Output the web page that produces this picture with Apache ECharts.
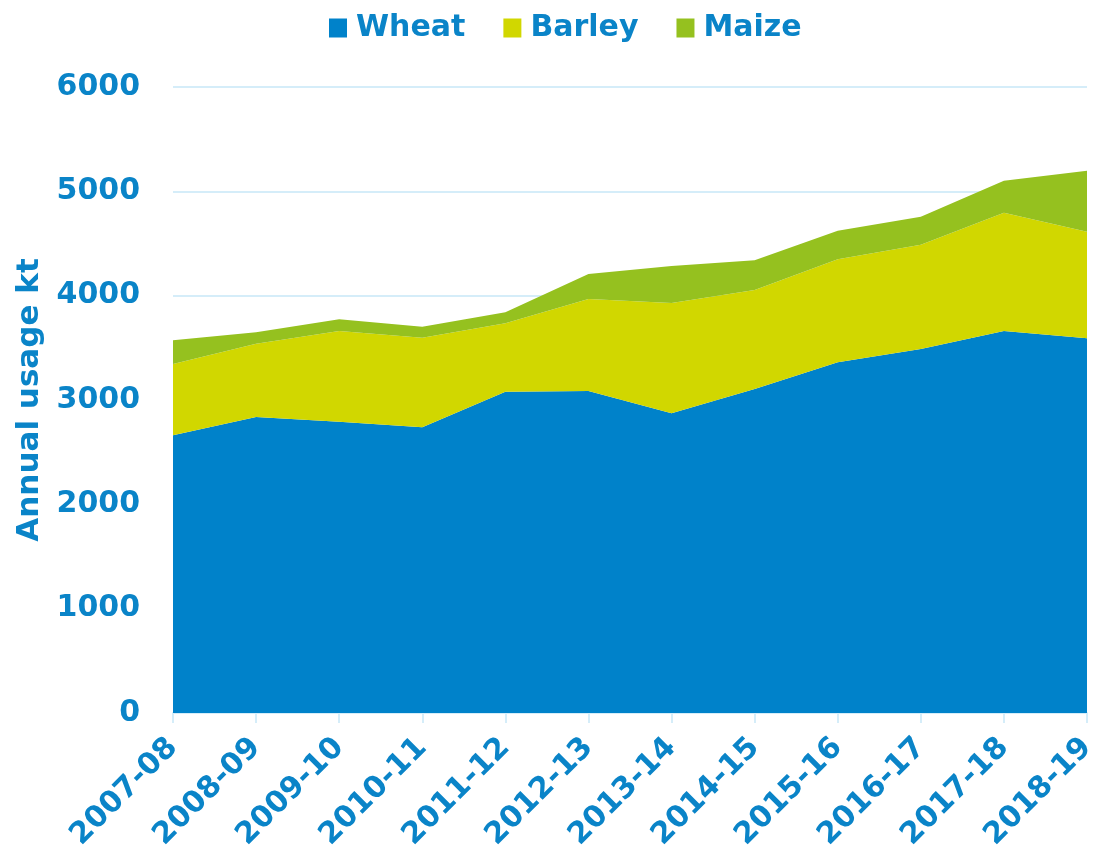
<!DOCTYPE html>
<html>
<head>
<meta charset="utf-8">
<script src="https://cdn.jsdelivr.net/npm/echarts@6/dist/echarts.min.js"></script>
<style>
  html, body { margin: 0; padding: 0; background: #fff; }
  #container { width: 1096px; height: 860px; }
</style>
</head>
<body>
<div id="container"></div>
<script>
var seasons = ['2007-08', '2008-09', '2009-10', '2010-11', '2011-12', '2012-13',
    '2013-14', '2014-15', '2015-16', '2016-17', '2017-18', '2018-19'];
var wheat = [2662, 2837, 2792, 2738, 3080, 3086, 2872, 3105, 3361, 3489, 3661, 3591];
var barley = [683, 703, 869, 859, 655, 882, 1058, 949, 988, 1000, 1134, 1022];
var maize = [227, 109, 112, 106, 106, 240, 354, 285, 274, 268, 307, 585];
var yTicks = [0, 1000, 2000, 3000, 4000, 5000, 6000];

var textBlue = '#0a84c8';
var lightLine = '#d5edf9';
var fontFam = 'DejaVu Sans';

function areaSeries(name, values, colour) {
    return {
        name: name,
        type: 'line',
        stack: 'usage',
        data: values,
        symbol: 'none',
        lineStyle: { width: 0 },
        areaStyle: { color: colour, opacity: 1 },
        itemStyle: { color: colour },
        emphasis: { disabled: true }
    };
}

var myChart = echarts.init(document.getElementById('container'));

var option = {
    animation: false,
    legend: {
        top: 13,
        left: 329,
        padding: 0,
        itemWidth: 18,
        itemHeight: 19,
        itemGap: 38,
        icon: 'rect',
        data: ['Wheat', 'Barley', 'Maize'],
        textStyle: {
            color: textBlue,
            fontFamily: fontFam,
            fontWeight: 'bold',
            fontSize: 30,
            padding: [0, 0, 0, 4]
        }
    },
    grid: {
        left: 173,
        right: 9,
        top: 87,
        bottom: 147,
        containLabel: false,
        outerBoundsMode: 'none'
    },
    xAxis: {
        type: 'category',
        boundaryGap: false,
        data: seasons,
        axisLine: { show: true, lineStyle: { color: lightLine, width: 2 } },
        axisTick: { show: true, alignWithLabel: true, length: 10, lineStyle: { color: lightLine, width: 2 } },
        axisLabel: {
            rotate: 45,
            interval: 0,
            margin: 30,
            color: textBlue,
            fontFamily: fontFam,
            fontWeight: 'bold',
            fontSize: 30
        }
    },
    yAxis: {
        type: 'value',
        min: yTicks[0],
        max: yTicks[yTicks.length - 1],
        interval: 1000,
        name: 'Annual usage kt',
        nameLocation: 'middle',
        nameGap: 122,
        nameTextStyle: {
            color: textBlue,
            fontFamily: fontFam,
            fontWeight: 'bold',
            fontSize: 31
        },
        axisLine: { show: false },
        axisTick: { show: false },
        splitLine: { lineStyle: { color: lightLine, width: 2 } },
        axisLabel: {
            margin: 33,
            color: textBlue,
            fontFamily: fontFam,
            fontWeight: 'bold',
            fontSize: 30,
            formatter: function (v) { return String(v); }
        }
    },
    series: [
        areaSeries('Wheat', wheat, '#0082ca'),
        areaSeries('Barley', barley, '#d1d700'),
        areaSeries('Maize', maize, '#95c11f')
    ]
};
myChart.setOption(option);
</script>
</body>
</html>
